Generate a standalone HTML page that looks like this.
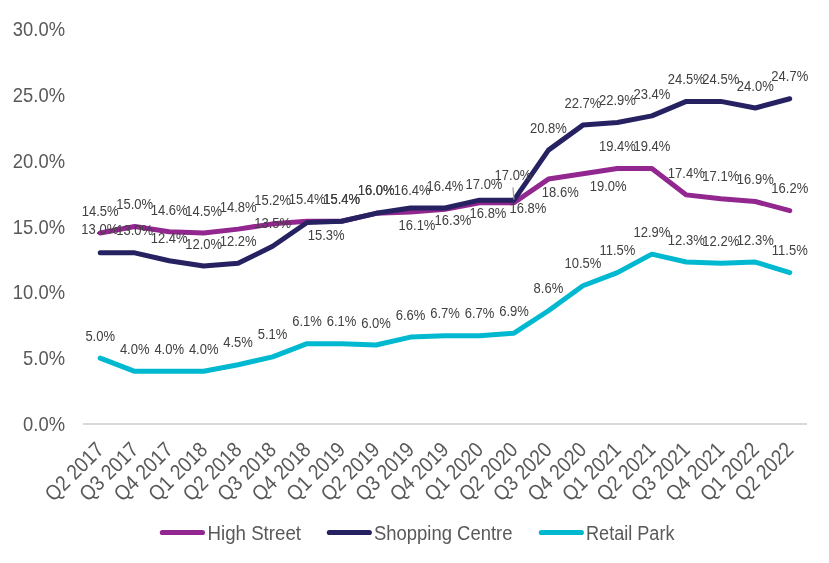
<!DOCTYPE html>
<html><head><meta charset="utf-8"><title>Vacancy rates</title>
<style>
html,body{margin:0;padding:0;background:#fff;}
body{width:829px;height:563px;overflow:hidden;}
svg{display:block;}
text{font-family:"Liberation Sans",sans-serif;}
.ax{font-size:20px;fill:#595959;}
.xl{font-size:21.33px;fill:#595959;}
.dl{font-size:14px;fill:#404040;}
.lg{font-size:19.5px;fill:#595959;}
</style></head><body>
<svg width="829" height="563" viewBox="0 0 829 563">
<rect width="829" height="563" fill="#fff"/>

<line x1="83.0" y1="424.0" x2="807.0" y2="424.0" stroke="#D9D9D9" stroke-width="2"/>
<text class="ax" text-anchor="end" transform="translate(65,431.1) scale(0.92,1)">0.0%</text>
<text class="ax" text-anchor="end" transform="translate(65,365.3) scale(0.92,1)">5.0%</text>
<text class="ax" text-anchor="end" transform="translate(65,299.4) scale(0.92,1)">10.0%</text>
<text class="ax" text-anchor="end" transform="translate(65,233.6) scale(0.92,1)">15.0%</text>
<text class="ax" text-anchor="end" transform="translate(65,167.8) scale(0.92,1)">20.0%</text>
<text class="ax" text-anchor="end" transform="translate(65,101.9) scale(0.92,1)">25.0%</text>
<text class="ax" text-anchor="end" transform="translate(65,36.1) scale(0.92,1)">30.0%</text>
<text class="xl" text-anchor="end" transform="translate(105.1,451.0) rotate(-45) scale(0.89,1)">Q2 2017</text>
<text class="xl" text-anchor="end" transform="translate(139.6,451.0) rotate(-45) scale(0.89,1)">Q3 2017</text>
<text class="xl" text-anchor="end" transform="translate(174.1,451.0) rotate(-45) scale(0.89,1)">Q4 2017</text>
<text class="xl" text-anchor="end" transform="translate(208.6,451.0) rotate(-45) scale(0.89,1)">Q1 2018</text>
<text class="xl" text-anchor="end" transform="translate(243.0,451.0) rotate(-45) scale(0.89,1)">Q2 2018</text>
<text class="xl" text-anchor="end" transform="translate(277.5,451.0) rotate(-45) scale(0.89,1)">Q3 2018</text>
<text class="xl" text-anchor="end" transform="translate(312.0,451.0) rotate(-45) scale(0.89,1)">Q4 2018</text>
<text class="xl" text-anchor="end" transform="translate(346.5,451.0) rotate(-45) scale(0.89,1)">Q1 2019</text>
<text class="xl" text-anchor="end" transform="translate(380.9,451.0) rotate(-45) scale(0.89,1)">Q2 2019</text>
<text class="xl" text-anchor="end" transform="translate(415.4,451.0) rotate(-45) scale(0.89,1)">Q3 2019</text>
<text class="xl" text-anchor="end" transform="translate(449.9,451.0) rotate(-45) scale(0.89,1)">Q4 2019</text>
<text class="xl" text-anchor="end" transform="translate(484.4,451.0) rotate(-45) scale(0.89,1)">Q1 2020</text>
<text class="xl" text-anchor="end" transform="translate(518.9,451.0) rotate(-45) scale(0.89,1)">Q2 2020</text>
<text class="xl" text-anchor="end" transform="translate(553.3,451.0) rotate(-45) scale(0.89,1)">Q3 2020</text>
<text class="xl" text-anchor="end" transform="translate(587.8,451.0) rotate(-45) scale(0.89,1)">Q4 2020</text>
<text class="xl" text-anchor="end" transform="translate(622.3,451.0) rotate(-45) scale(0.89,1)">Q1 2021</text>
<text class="xl" text-anchor="end" transform="translate(656.8,451.0) rotate(-45) scale(0.89,1)">Q2 2021</text>
<text class="xl" text-anchor="end" transform="translate(691.2,451.0) rotate(-45) scale(0.89,1)">Q3 2021</text>
<text class="xl" text-anchor="end" transform="translate(725.7,451.0) rotate(-45) scale(0.89,1)">Q4 2021</text>
<text class="xl" text-anchor="end" transform="translate(760.2,451.0) rotate(-45) scale(0.89,1)">Q1 2022</text>
<text class="xl" text-anchor="end" transform="translate(794.7,451.0) rotate(-45) scale(0.89,1)">Q2 2022</text>
<polyline points="100.24,358.17 134.71,371.33 169.19,371.33 203.67,371.33 238.14,364.75 272.62,356.85 307.10,343.68 341.57,343.68 376.05,345.00 410.52,337.10 445.00,335.78 479.48,335.78 513.95,333.15 548.43,310.76 582.90,285.75 617.38,272.58 651.86,254.15 686.33,262.05 720.81,263.36 755.29,262.05 789.76,272.58" fill="none" stroke="#00B9D0" stroke-width="5" stroke-linecap="round" stroke-linejoin="round"/>
<polyline points="100.24,233.08 134.71,226.50 169.19,231.76 203.67,233.08 238.14,229.13 272.62,223.86 307.10,221.23 341.57,221.23 376.05,213.33 410.52,212.01 445.00,209.38 479.48,202.79 513.95,202.79 548.43,179.09 582.90,173.83 617.38,168.56 651.86,168.56 686.33,194.89 720.81,198.84 755.29,201.48 789.76,210.69" fill="none" stroke="#92278F" stroke-width="5" stroke-linecap="round" stroke-linejoin="round"/>
<polyline points="100.24,252.83 134.71,252.83 169.19,260.73 203.67,266.00 238.14,263.36 272.62,246.25 307.10,222.54 341.57,221.23 376.05,213.33 410.52,208.06 445.00,208.06 479.48,200.16 513.95,200.16 548.43,150.13 582.90,125.11 617.38,122.48 651.86,115.89 686.33,101.41 720.81,101.41 755.29,107.99 789.76,98.78" fill="none" stroke="#262262" stroke-width="5" stroke-linecap="round" stroke-linejoin="round"/>
<text class="dl" text-anchor="middle" transform="translate(100.2,340.8) scale(0.93,1)">5.0%</text>
<text class="dl" text-anchor="middle" transform="translate(134.7,353.9) scale(0.93,1)">4.0%</text>
<text class="dl" text-anchor="middle" transform="translate(169.2,353.9) scale(0.93,1)">4.0%</text>
<text class="dl" text-anchor="middle" transform="translate(203.7,353.9) scale(0.93,1)">4.0%</text>
<text class="dl" text-anchor="middle" transform="translate(238.1,347.3) scale(0.93,1)">4.5%</text>
<text class="dl" text-anchor="middle" transform="translate(272.6,339.4) scale(0.93,1)">5.1%</text>
<text class="dl" text-anchor="middle" transform="translate(307.1,326.3) scale(0.93,1)">6.1%</text>
<text class="dl" text-anchor="middle" transform="translate(341.6,326.3) scale(0.93,1)">6.1%</text>
<text class="dl" text-anchor="middle" transform="translate(376.0,327.6) scale(0.93,1)">6.0%</text>
<text class="dl" text-anchor="middle" transform="translate(410.5,319.7) scale(0.93,1)">6.6%</text>
<text class="dl" text-anchor="middle" transform="translate(445.0,318.4) scale(0.93,1)">6.7%</text>
<text class="dl" text-anchor="middle" transform="translate(479.5,318.4) scale(0.93,1)">6.7%</text>
<text class="dl" text-anchor="middle" transform="translate(514.0,315.7) scale(0.93,1)">6.9%</text>
<text class="dl" text-anchor="middle" transform="translate(548.4,293.4) scale(0.93,1)">8.6%</text>
<text class="dl" text-anchor="middle" transform="translate(582.9,268.3) scale(0.93,1)">10.5%</text>
<text class="dl" text-anchor="middle" transform="translate(617.4,255.2) scale(0.93,1)">11.5%</text>
<text class="dl" text-anchor="middle" transform="translate(651.9,236.7) scale(0.93,1)">12.9%</text>
<text class="dl" text-anchor="middle" transform="translate(686.3,244.6) scale(0.93,1)">12.3%</text>
<text class="dl" text-anchor="middle" transform="translate(720.8,246.0) scale(0.93,1)">12.2%</text>
<text class="dl" text-anchor="middle" transform="translate(755.3,244.6) scale(0.93,1)">12.3%</text>
<text class="dl" text-anchor="middle" transform="translate(789.8,255.2) scale(0.93,1)">11.5%</text>
<text class="dl" text-anchor="middle" transform="translate(100.2,215.7) scale(0.93,1)">14.5%</text>
<text class="dl" text-anchor="middle" transform="translate(134.7,209.1) scale(0.93,1)">15.0%</text>
<text class="dl" text-anchor="middle" transform="translate(169.2,215.0) scale(0.93,1)">14.6%</text>
<text class="dl" text-anchor="middle" transform="translate(203.7,215.7) scale(0.93,1)">14.5%</text>
<text class="dl" text-anchor="middle" transform="translate(238.1,211.5) scale(0.93,1)">14.8%</text>
<text class="dl" text-anchor="middle" transform="translate(272.6,205.0) scale(0.93,1)">15.2%</text>
<text class="dl" text-anchor="middle" transform="translate(307.1,203.8) scale(0.93,1)">15.4%</text>
<text class="dl" text-anchor="middle" transform="translate(341.6,203.8) scale(0.93,1)">15.4%</text>
<text class="dl" text-anchor="middle" transform="translate(376.1,194.8) scale(0.93,1)">16.0%</text>
<text class="dl" text-anchor="middle" transform="translate(417.0,229.6) scale(0.93,1)">16.1%</text>
<text class="dl" text-anchor="middle" transform="translate(453.0,224.8) scale(0.93,1)">16.3%</text>
<text class="dl" text-anchor="middle" transform="translate(488.0,218.0) scale(0.93,1)">16.8%</text>
<text class="dl" text-anchor="middle" transform="translate(527.9,213.4) scale(0.93,1)">16.8%</text>
<text class="dl" text-anchor="middle" transform="translate(560.3,196.9) scale(0.93,1)">18.6%</text>
<text class="dl" text-anchor="middle" transform="translate(608.2,191.4) scale(0.93,1)">19.0%</text>
<text class="dl" text-anchor="middle" transform="translate(617.4,151.2) scale(0.93,1)">19.4%</text>
<text class="dl" text-anchor="middle" transform="translate(651.9,151.2) scale(0.93,1)">19.4%</text>
<text class="dl" text-anchor="middle" transform="translate(686.3,177.5) scale(0.93,1)">17.4%</text>
<text class="dl" text-anchor="middle" transform="translate(720.8,181.4) scale(0.93,1)">17.1%</text>
<text class="dl" text-anchor="middle" transform="translate(755.3,184.1) scale(0.93,1)">16.9%</text>
<text class="dl" text-anchor="middle" transform="translate(789.8,193.3) scale(0.93,1)">16.2%</text>
<text class="dl" text-anchor="middle" transform="translate(99.8,234.3) scale(0.93,1)">13.0%</text>
<text class="dl" text-anchor="middle" transform="translate(134.7,235.4) scale(0.93,1)">13.0%</text>
<text class="dl" text-anchor="middle" transform="translate(169.2,243.3) scale(0.93,1)">12.4%</text>
<text class="dl" text-anchor="middle" transform="translate(203.7,248.6) scale(0.93,1)">12.0%</text>
<text class="dl" text-anchor="middle" transform="translate(238.1,246.0) scale(0.93,1)">12.2%</text>
<text class="dl" text-anchor="middle" transform="translate(272.6,227.9) scale(0.93,1)">13.5%</text>
<text class="dl" text-anchor="middle" transform="translate(326.2,239.5) scale(0.93,1)">15.3%</text>
<text class="dl" text-anchor="middle" transform="translate(341.6,203.8) scale(0.93,1)">15.4%</text>
<text class="dl" text-anchor="middle" transform="translate(376.1,194.8) scale(0.93,1)">16.0%</text>
<text class="dl" text-anchor="middle" transform="translate(412.2,194.6) scale(0.93,1)">16.4%</text>
<text class="dl" text-anchor="middle" transform="translate(445.0,190.7) scale(0.93,1)">16.4%</text>
<text class="dl" text-anchor="middle" transform="translate(484.0,188.6) scale(0.93,1)">17.0%</text>
<text class="dl" text-anchor="middle" transform="translate(513.0,180.2) scale(0.93,1)">17.0%</text>
<text class="dl" text-anchor="middle" transform="translate(548.4,132.7) scale(0.93,1)">20.8%</text>
<text class="dl" text-anchor="middle" transform="translate(582.9,107.7) scale(0.93,1)">22.7%</text>
<text class="dl" text-anchor="middle" transform="translate(617.4,105.1) scale(0.93,1)">22.9%</text>
<text class="dl" text-anchor="middle" transform="translate(651.9,98.5) scale(0.93,1)">23.4%</text>
<text class="dl" text-anchor="middle" transform="translate(686.3,84.0) scale(0.93,1)">24.5%</text>
<text class="dl" text-anchor="middle" transform="translate(720.8,84.0) scale(0.93,1)">24.5%</text>
<text class="dl" text-anchor="middle" transform="translate(755.3,90.6) scale(0.93,1)">24.0%</text>
<text class="dl" text-anchor="middle" transform="translate(789.8,81.4) scale(0.93,1)">24.7%</text>
<line x1="513" y1="187.4" x2="513.9" y2="199.5" stroke="#A3A3A3" stroke-width="1.3"/>
<line x1="162.4" y1="532.5" x2="202.4" y2="532.5" stroke="#92278F" stroke-width="5.2" stroke-linecap="round"/>
<text class="lg" x="207.5" y="539.9" textLength="93.5" lengthAdjust="spacingAndGlyphs">High Street</text>
<line x1="329.40000000000003" y1="532.5" x2="369.29999999999995" y2="532.5" stroke="#262262" stroke-width="5.2" stroke-linecap="round"/>
<text class="lg" x="374" y="539.9" textLength="138.5" lengthAdjust="spacingAndGlyphs">Shopping Centre</text>
<line x1="541.4" y1="532.5" x2="581.3" y2="532.5" stroke="#00B9D0" stroke-width="5.2" stroke-linecap="round"/>
<text class="lg" x="586" y="539.9" textLength="88.5" lengthAdjust="spacingAndGlyphs">Retail Park</text>
</svg></body></html>
